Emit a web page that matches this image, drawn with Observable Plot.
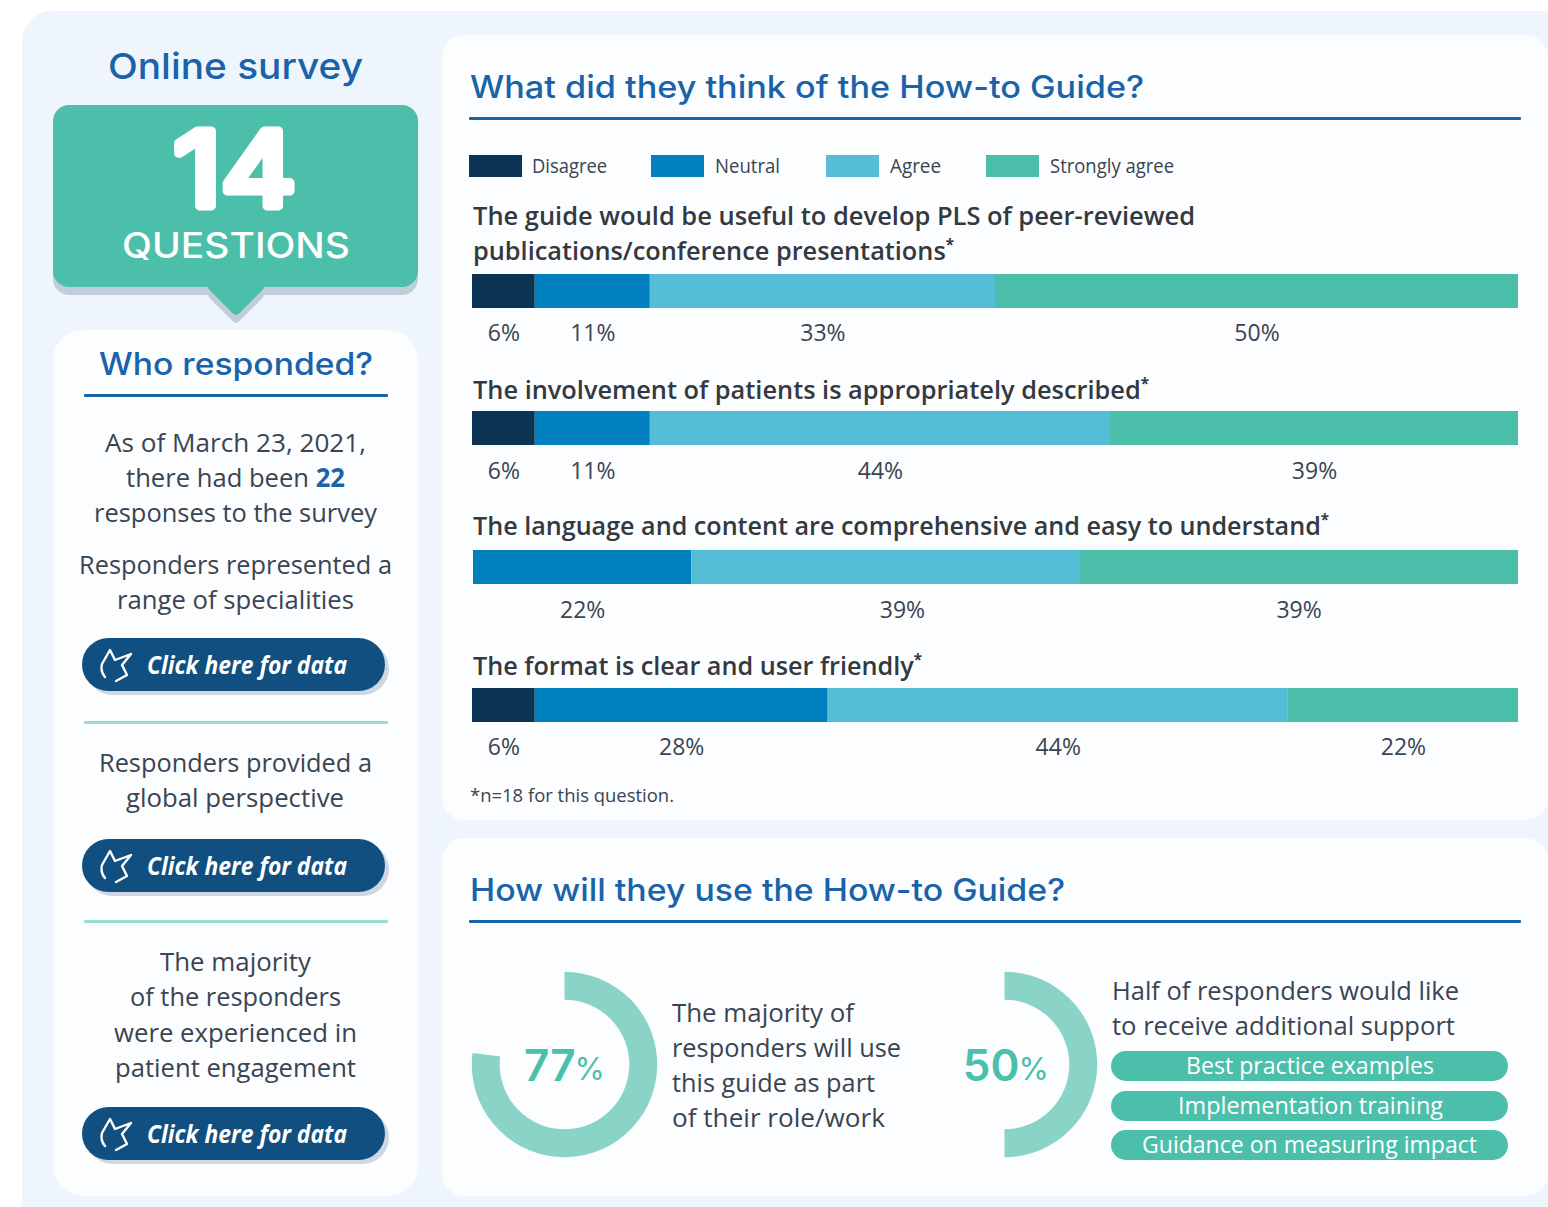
<!DOCTYPE html>
<html><head><meta charset="utf-8">
<script src="https://cdn.jsdelivr.net/npm/d3@7"></script>
<script src="https://cdn.jsdelivr.net/npm/@observablehq/plot@0.6"></script>
<style>
html,body{margin:0;padding:0;background:#fff}
#page{position:relative;width:1548px;height:1207px;overflow:hidden;font-family:"Open Sans",sans-serif;color:#3a4450}
.box,.txt,.plot{position:absolute}
.txt{white-space:nowrap;line-height:1;transform-origin:0 50%}
.plot svg{display:block;overflow:visible;background:transparent;max-width:none}
</style></head><body><div id="page"></div>
<script>
// ---- chart data ----
const levels = ["Disagree","Neutral","Agree","Strongly agree"];
const levelColors = ["#0d3354","#0080bf","#55bed6","#4cbfaa"];
const barTops = [274,411,550,688];
const barLefts = [472,472,473,472];
const labelDy = [25,26,26,25];
const disagree = [6,6,0,6];
const neutral = [11,11,20.9,28];
const agree = [33,44,37.1,44];
const stronglyAgree = [50,39,42,22];
const printedDisagree = [6,6,null,6];
const printedNeutral = [11,11,22,28];
const printedAgree = [33,44,39,44];
const printedStrong = [50,39,39,22];
const labelNudge = [[0,0,0,0],[0,0,0,0],[0,0,1.6,0],[0,0,0,0]];
const donutShares = [77,50];

const HEAD = "Inter,sans-serif", BODY = '"Open Sans",sans-serif';
const BLUE = "#1a63a8", DARK = "#3a4450";
const page = document.getElementById("page");

function box(x,y,w,h,bg,r=0,extra=""){
  const d=document.createElement("div");d.className="box";
  d.style.cssText=`left:${x}px;top:${y}px;width:${w}px;height:${h}px;background:${bg};border-radius:${r}px;${extra}`;
  page.appendChild(d);return d;
}
// places a line of text so its ink spans x0..x1 and is centred on y
function line(html,x0,x1,y,size,o={}){
  const s=document.createElement("div");s.className="txt";s.innerHTML=html;
  s.style.cssText=`font-family:${o.font||BODY};font-size:${size}px;font-weight:${o.weight||400};font-style:${o.italic?"italic":"normal"};color:${o.color||DARK};left:${x0}px;top:${y-1}px;${o.css||""}`;
  page.appendChild(s);
  const w=s.getBoundingClientRect().width;
  s.style.transform=`translateY(-50%) scaleX(${(x1-x0)/w})`;
  return s;
}
const star='<span style="font-size:.6em;position:relative;top:-.62em;font-weight:700">*</span>';

// panels
box(22,11,1600,1260,"#eef5fc",30);
box(53,330,365,866,"#fbfdff",30);
box(442,35,1106,785,"#fbfdff",22);
box(442,838,1106,358,"#fbfdff",22);

// callout
box(53,113,365,182,"#c0ced9",16);
box(207,266,58,58,"#c0ced9",6,"transform:rotate(45deg) scale(.72);");
box(207,258,58,58,"#4cbfaa",6,"transform:rotate(45deg) scale(.72);");
box(53,105,365,182,"#4cbfaa",16);
line("Online survey",108,363,67,36,{font:HEAD,weight:500,color:BLUE});
{
  const ns="http://www.w3.org/2000/svg";
  const i=document.createElementNS(ns,"svg");
  i.setAttribute("width",240);i.setAttribute("height",150);
  i.style.cssText="position:absolute;left:115px;top:93px;overflow:visible";
  i.innerHTML=`<text transform="translate(120 0) scale(1.13 1)" x="0" y="113" text-anchor="middle" font-family="Inter,sans-serif" font-weight="400" font-size="103" fill="#fff" stroke="#fff" stroke-width="9" stroke-linejoin="round">14</text>`;
  page.appendChild(i);
}
line("QUESTIONS",122,350,246,35,{font:HEAD,weight:500,color:"#fff"});

// left column
line("Who responded?",99,373,364,31,{font:HEAD,weight:500,color:BLUE});
box(84,394,304,2.5,BLUE,1);
const leftLines=[
 ["As of March 23, 2021,",105,366,443],
 [`there had been <b style="color:${BLUE}">22</b>`,126,345,478],
 ["responses to the survey",94,377,513],
 ["Responders represented a",79,392,565],
 ["range of specialities",117,354,600],
 ["Responders provided a",99,372,763],
 ["global perspective",126,344,798],
 ["The majority",160,311,962],
 ["of the responders",130,341,997],
 ["were experienced in",114,357,1033],
 ["patient engagement",115,356,1068]];
leftLines.forEach(l=>line(l[0],l[1],l[2],l[3],26));
box(84,721,304,2.5,"#97dccd",1);
box(84,920,304,2.5,"#97dccd",1);
[638,839,1107].forEach(y=>{
  box(86,y+4,303,53,"#cfd8e2",27);
  box(82,y,303,53,"#114f80",27);
  const ns="http://www.w3.org/2000/svg";
  const i=document.createElementNS(ns,"svg");
  i.setAttribute("width",40);i.setAttribute("height",40);
  i.style.cssText=`position:absolute;left:97px;top:${y+9}px`;
  i.innerHTML='<path d="M8 30 Q3 24 5 17 L13 3 L18 13 L34 7 L25 18 L30 28 L19 34" fill="none" stroke="#fff" stroke-width="2.4" stroke-linecap="round" stroke-linejoin="round"/>';
  page.appendChild(i);
  line("Click here for data",147,347,y+27,25,{weight:700,italic:true,color:"#fff"});
});

// right top
line("What did they think of the How-to Guide?",470,1144,87,31,{font:HEAD,weight:500,color:BLUE});
box(469,117,1052,2.5,BLUE,1);
const legendX=[[469,532,607],[651,715,780],[826,890,941],[986,1050,1174]];
levels.forEach((n,i)=>{
  box(legendX[i][0],155,53,22,levelColors[i]);
  line(n,legendX[i][1],legendX[i][2],167,20);
});
const qOpt={weight:650,color:"#33393f"};
line("The guide would be useful to develop PLS of peer-reviewed",473,1195,216,26,qOpt);
line("publications/conference presentations"+star,473,954,251,26,qOpt);
line("The involvement of patients is appropriately described"+star,473,1149,390,26,qOpt);
line("The language and content are comprehensive and easy to understand"+star,473,1329,526,26,qOpt);
line("The format is clear and user friendly"+star,473,922,666,26,qOpt);
line("*n=18 for this question.",470,674,796,19);

// stacked bars
barTops.forEach((top,r)=>{
  const drawn=[disagree[r],neutral[r],agree[r],stronglyAgree[r]];
  const printed=[printedDisagree[r],printedNeutral[r],printedAgree[r],printedStrong[r]];
  const cum=d3.cumsum(drawn);
  const table=levels.map((level,i)=>({level,value:drawn[i],printed:printed[i],
    mid:cum[i]-drawn[i]/2+labelNudge[r][i]}));
  const p=Plot.plot({width:1518-barLefts[r],height:34,margin:0,
    x:{domain:[0,100],axis:null},
    color:{domain:levels,range:levelColors},
    style:{background:"transparent",overflow:"visible"},
    marks:[
      Plot.barX(table.filter(d=>d.value>0),{x:"value",fill:"level",order:null}),
      Plot.text(table.filter(d=>d.printed!=null),{x:"mid",frameAnchor:"bottom",dy:labelDy[r],lineAnchor:"middle",
        text:d=>d.printed+"%",fill:DARK,fontSize:23,fontFamily:BODY})
    ]});
  const w=document.createElement("div");w.className="plot";
  w.style.cssText=`left:${barLefts[r]}px;top:${top}px`;w.appendChild(p);page.appendChild(w);
});

// right bottom
line("How will they use the How-to Guide?",470,1065,890,31,{font:HEAD,weight:500,color:BLUE});
box(469,920,1052,2.5,BLUE,1);

const donutCentres=[564,1004];
const donutTextDx=[11,15];
donutShares.forEach((share,k)=>{
  const symbol={draw(ctx,size){
    const R=Math.sqrt(size/Math.PI);
    d3.arc().context(ctx)({innerRadius:R*65/93,outerRadius:R,startAngle:0,endAngle:2*Math.PI*share/100});
  }};
  const p=Plot.plot({width:186,height:186,margin:0,
    x:{domain:[-1,1],axis:null},y:{domain:[-1,1],axis:null},
    style:{background:"transparent",overflow:"visible"},
    marks:[
      Plot.dot([share],{x:()=>0,y:()=>0,r:92.7,symbol,fill:"#89d4c6",stroke:"none"}),
      Plot.text([share],{x:()=>0,y:()=>0,text:d=>String(d),textAnchor:"end",dx:donutTextDx[k],dy:2,fontSize:44,fontWeight:600,fontFamily:HEAD,fill:"#4cbfaa"}),
      Plot.text([share],{x:()=>0,y:()=>0,text:()=>"%",textAnchor:"start",dx:donutTextDx[k]-1,dy:6,fontSize:31,fontWeight:400,fontFamily:HEAD,fill:"#4cbfaa"})
    ]});
  const w=document.createElement("div");w.className="plot";
  w.style.cssText=`left:${donutCentres[k]-93}px;top:${1064-93}px`;w.appendChild(p);page.appendChild(w);
});
[["The majority of",672,854,1013],["responders will use",672,901,1048],["this guide as part",672,875,1083],["of their role/work",672,885,1118],
 ["Half of responders would like",1112,1459,991],["to receive additional support",1112,1455,1026]]
 .forEach(l=>line(l[0],l[1],l[2],l[3],26));
[["Best practice examples",1186,1434,1051],["Implementation training",1178,1443,1091],["Guidance on measuring impact",1142,1477,1130]]
 .forEach(l=>{box(1111,l[3],397,30,"#4cbfaa",15);line(l[0],l[1],l[2],l[3]+15,23,{color:"#fff"});});
</script></body></html>
